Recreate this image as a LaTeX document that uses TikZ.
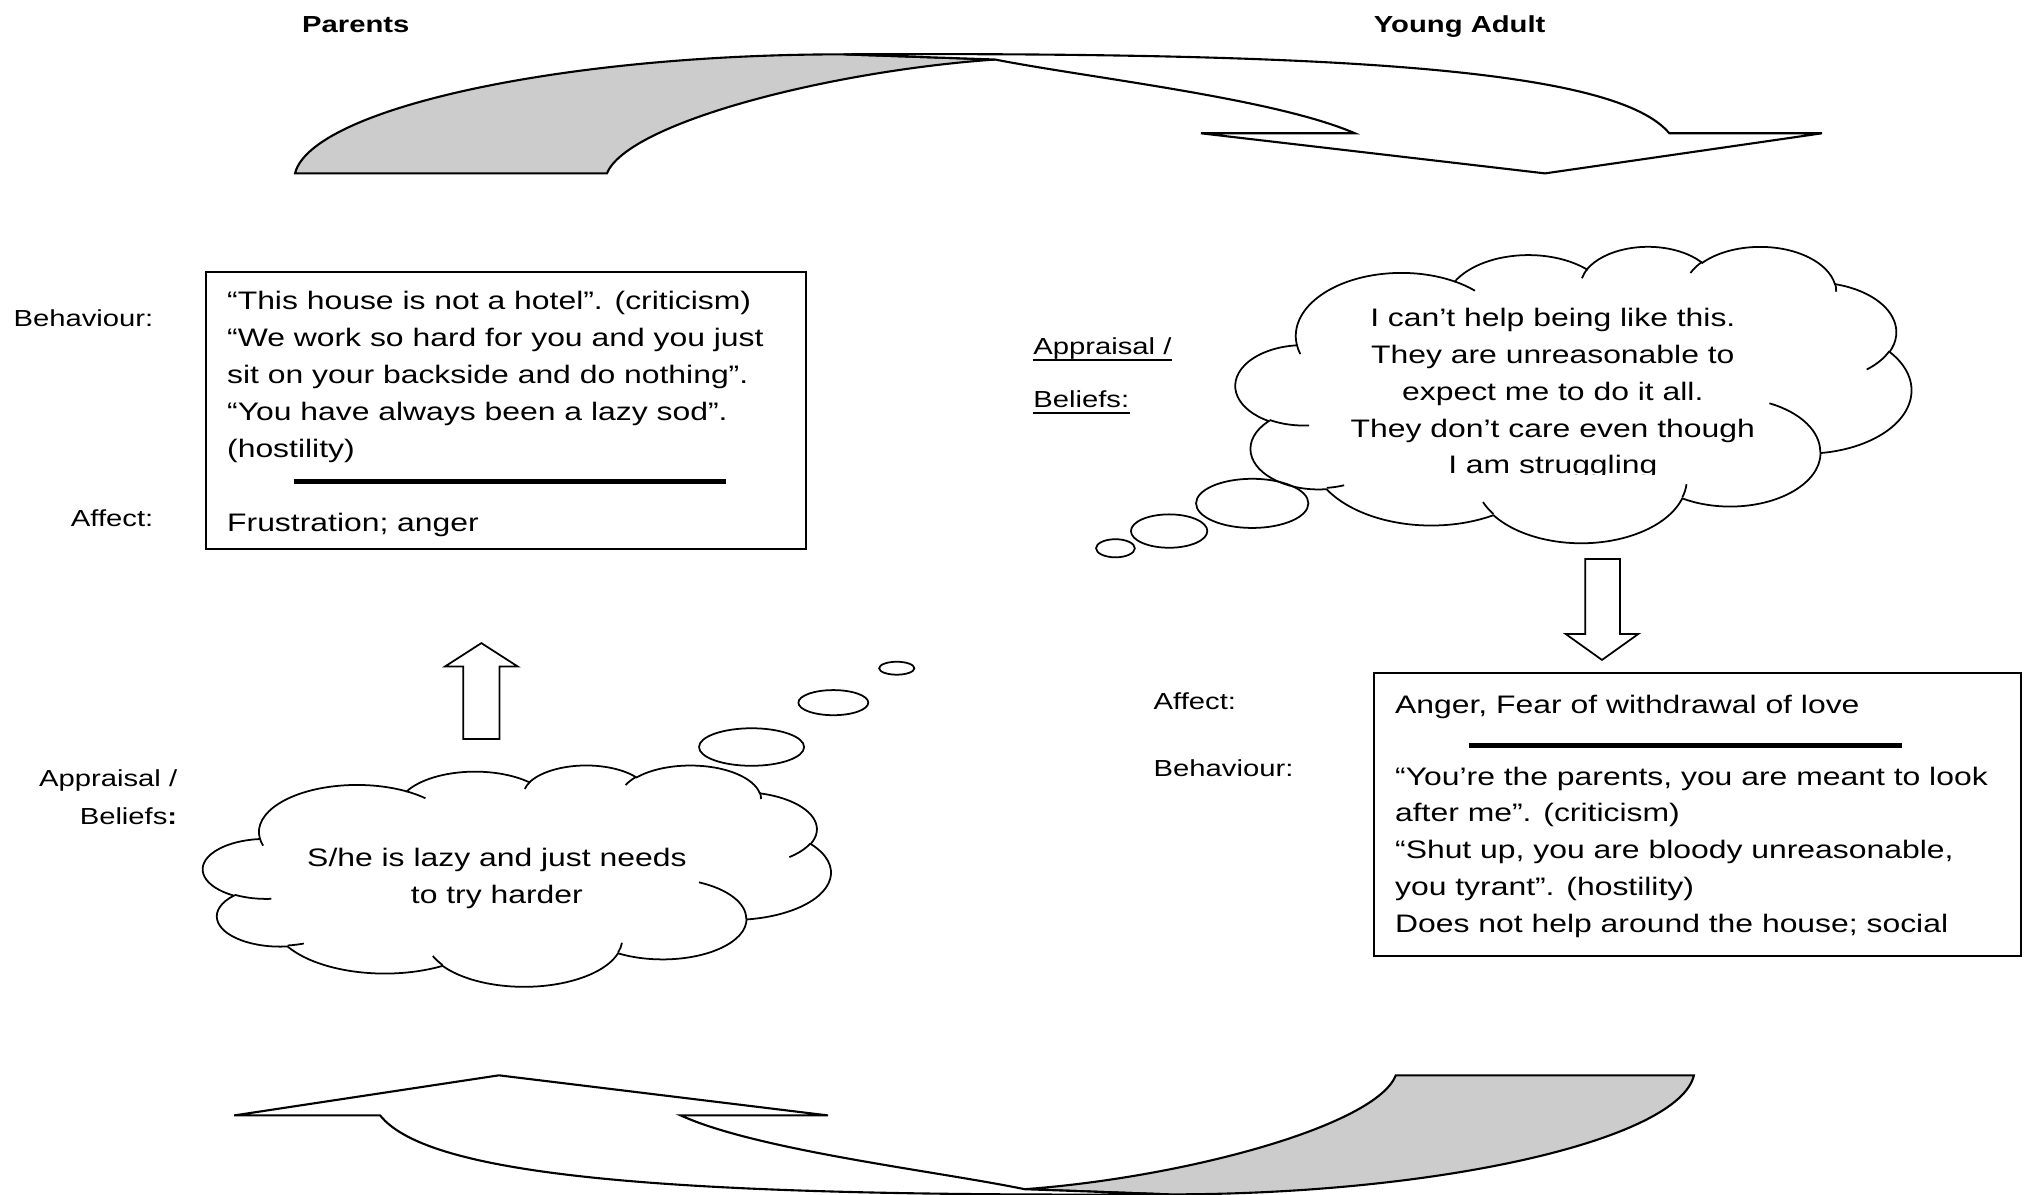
\documentclass[tikz,border=0pt]{standalone}
\usepackage{fontspec}
\setmainfont{Liberation Sans}[FakeStretch=1.26]
\usetikzlibrary{positioning,fit}
\definecolor{backgray}{gray}{0.8}

% one puff of the cloud: x radius, y radius, start angle, sweep (seen angles)
\newcommand\cloudarc[4]{arc[x radius=#1, y radius=#2,
  start angle={atan2(#1*sin(#3),#2*cos(#3))},
  delta angle={mod(atan2(#1*sin(#3+#4),#2*cos(#3+#4))-atan2(#1*sin(#3),#2*cos(#3))+720,360)}]}

\begin{document}
\begin{tikzpicture}[x=0.01294cm, y=-0.01294cm,
  txt/.style={font=\fontsize{7.2}{10.46}\selectfont, inner sep=0, align=left},
  lbl/.style={font=\fontsize{6.6}{10.7}\selectfont, inner sep=0},
  head/.style={font=\fontsize{6.6}{8}\selectfont\bfseries, inner sep=0},
  boxframe/.style={draw, line width=0.5pt, inner sep=0},
  thickrule/.style={line width=1.6pt},
  ulrule/.style={line width=0.45pt},
  cloudline/.style={draw, line width=0.5pt},
  bubble/.style={draw, line width=0.5pt},
  blockarrow/.style={draw, fill=white, line width=0.5pt},
  bentarrow/.style={draw, line width=0.6pt},
  curvedarrow/.pic={
    \filldraw[bentarrow, fill=backgray] (228,134) .. controls (240,85) and (430,42) .. (652,42)
      -- (769,46) .. controls (640,55) and (485,95) .. (469,134) -- cycle;
    \filldraw[bentarrow, fill=white] (652,42) .. controls (1050,40) and (1250,55) .. (1290,103)
      -- (1408,103) -- (1194,134) -- (928,103) -- (1047,103)
      .. controls (985,76) and (840,60) .. (769,46) -- cycle;
  },
  wordcloud/.pic={
    \path[cloudline] (39,143.7) \cloudarc{67.53}{91.90}{-190.4875}{123.7805}
      \cloudarc{53.33}{72.67}{-144.1024}{89.9452}
      \cloudarc{43.65}{59.45}{-145.8079}{99.7230}
      \cloudarc{48.57}{65.95}{-130.9861}{117.2417}
      \cloudarc{53.33}{72.73}{-78.7089}{109.0269}
      \cloudarc{67.75}{92.20}{-46.2673}{130.2690}
      \cloudarc{57.85}{78.67}{0.6250}{114.0333}
      \cloudarc{67.52}{92.15}{22.4516}{115.1726}
      \cloudarc{77.20}{105.43}{66.2426}{75.7110}
      \cloudarc{43.60}{59.18}{-274.9421}{146.7356}
      \cloudarc{43.45}{59.45}{-246.8285}{152.5189} -- cycle;
    % the short inner arcs between the puffs
    \path[cloudline] (46.93,261.77) \cloudarc{43.45}{59.45}{86.7420}{26.4295}
      (69.28,348.99) \cloudarc{43.60}{59.18}{73.6105}{11.4475}
      (164.78,390.90) \cloudarc{67.52}{92.15}{137.6242}{14.0811}
      (288.27,347.51) \cloudarc{67.52}{92.15}{6.4533}{15.9984}
      (341.29,229.54) \cloudarc{57.85}{78.67}{-70.2924}{70.9174}
      (417.98,153.54) \cloudarc{53.33}{72.73}{30.3180}{27.7515}
      (383.24,54.26) \cloudarc{48.57}{65.95}{-13.7443}{14.8589}
      (290.78,39.52) \cloudarc{48.57}{65.95}{-149.1815}{18.1954}
      (221.41,47.20) \cloudarc{43.65}{59.45}{-163.4943}{17.6864}
      (140.00,51.92) \cloudarc{67.53}{91.90}{-66.7070}{12.3194}
      (41.27,157.89) \cloudarc{67.53}{91.90}{157.6544}{11.8582};
  }]

\useasboundingbox (0,0) rectangle (1568,923);

% ======================================
% HEADINGS AND THE TWO BENT ARROWS
% ======================================
\node[head, anchor=base] (hparents) at (275,25.5) {Parents};
\node[head, anchor=base] (hyoung) at (1128,25.5) {Young Adult};

\pic at (0,0) {curvedarrow};
\pic[xscale=-0.956, yscale=-1] at (1527,965) {curvedarrow};

% ======================================
% PARENTS: BEHAVIOUR / AFFECT BOX
% ======================================
\node[boxframe, fit={(159,210) (623,424)}] (pbox) {};
\node[txt, anchor=base west] (pbeh) at (175,353.2) {“This house is not a hotel”. (criticism)\\“We work so hard for you and you just\\sit on your backside and do nothing”.\\“You have always been a lazy sod”.\\(hostility)};
\draw[thickrule] (227,372) -- (561,372);
\node[txt, anchor=base west] (paff) at (175,411) {Frustration; anger};

\node[lbl, anchor=base east] (pbehlbl) at (119,252) {Behaviour:};
\node[lbl, anchor=base east] (pafflbl) at (119,407) {Affect:};

% ======================================
% PARENTS: APPRAISAL CLOUD
% ======================================
\pic[xscale=1.1227, yscale=0.3958] at (157,591) {wordcloud};
\node[txt, align=center, anchor=base] (pthought) at (384,697.9) {S/he is lazy and just needs\\to try harder};
\draw[bubble] (580.8,577.3) ellipse [x radius=40.6, y radius=14.5];
\draw[bubble] (644,543) ellipse [x radius=27, y radius=9.7];
\draw[bubble] (693,516.4) ellipse [x radius=13.6, y radius=5];

\node[lbl, anchor=base east, align=right] (papprlbl) at (137.5,637) {Appraisal /\\Beliefs\textbf{:}};

\draw[blockarrow] (358,571) -- (358,515) -- (344,515) -- (372,497) -- (400,515) -- (386,515) -- (386,571) -- cycle;

% ======================================
% YOUNG ADULT: APPRAISAL CLOUD
% ======================================
\pic[xscale=1.2083, yscale=0.5301] at (955,190) {wordcloud};
\begin{scope}
  \clip (950,180) rectangle (1480,367);
  \node[txt, align=center, anchor=base] (ythought) at (1200,366.2) {I can’t help being like this.\\They are unreasonable to\\expect me to do it all.\\They don’t care even though\\I am struggling};
\end{scope}
\draw[bubble] (967.7,389) ellipse [x radius=43.4, y radius=19];
\draw[bubble] (903.5,410.4) ellipse [x radius=29.5, y radius=12.9];
\draw[bubble] (862,423.7) ellipse [x radius=15, y radius=7];

\node[lbl, anchor=base west] (yappr) at (798,274) {Appraisal /};
\node[lbl, anchor=base west] (ybel) at (798,315) {Beliefs:};
\draw[ulrule] ([yshift=-1.5pt]yappr.base west) -- ([yshift=-1.5pt]yappr.base east);
\draw[ulrule] ([yshift=-1.5pt]ybel.base west) -- ([yshift=-1.5pt]ybel.base east);

\draw[blockarrow] (1225,432) -- (1225,490) -- (1210,490) -- (1238,510) -- (1266,490) -- (1252,490) -- (1252,432) -- cycle;

% ======================================
% YOUNG ADULT: AFFECT / BEHAVIOUR BOX
% ======================================
\node[boxframe, fit={(1062,520) (1562,739)}] (ybox) {};
\node[txt, anchor=base west] (yaff) at (1077.6,551) {Anger, Fear of withdrawal of love};
\draw[thickrule] (1135,576) -- (1470,576);
\node[txt, anchor=base west] (ybeh) at (1077.6,720.3) {“You’re the parents, you are meant to look\\after me”. (criticism)\\“Shut up, you are bloody unreasonable,\\you tyrant”. (hostility)\\Does not help around the house; social};

\node[lbl, anchor=base west] (yafflbl) at (891,548) {Affect:};
\node[lbl, anchor=base west] (ybehlbl) at (891,600) {Behaviour:};

\end{tikzpicture}
\end{document}
